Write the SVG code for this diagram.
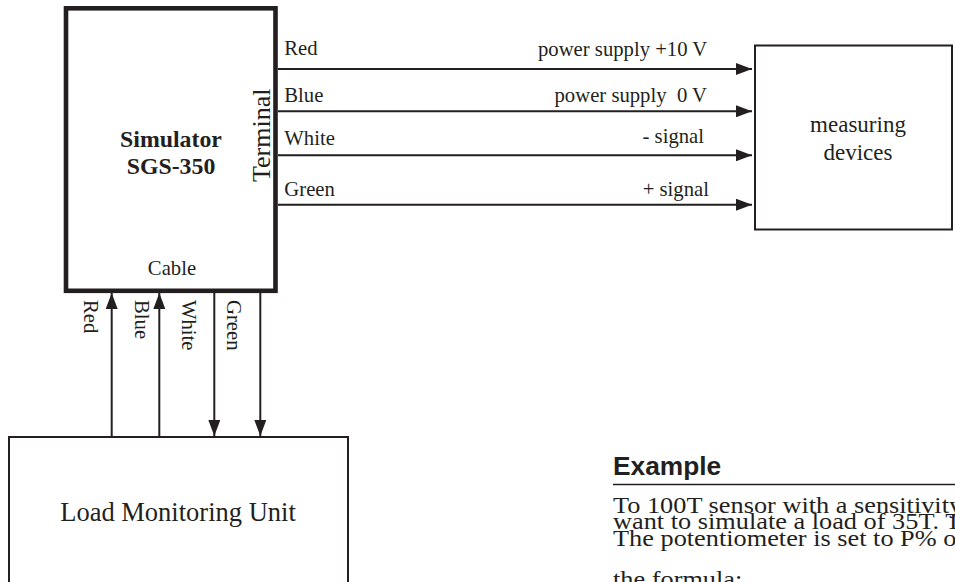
<svg xmlns="http://www.w3.org/2000/svg" width="955" height="582" viewBox="0 0 955 582">
<style>
.t{font-family:"Liberation Serif","Times New Roman",serif;fill:#231f20}
.lab{font-size:20.7px}
.big{font-size:26.5px}
.bold{font-weight:bold;font-size:23.8px}
.body{font-size:23.5px}
.sans{font-family:"Liberation Sans",Arial,sans-serif;font-weight:bold;font-size:26.3px;fill:#231f20}
.box{fill:#fff;stroke:#231f20;stroke-width:2}
.wire{stroke:#231f20;stroke-width:2;fill:none}
</style>
<defs>
<marker id="ah" markerUnits="userSpaceOnUse" markerWidth="16" markerHeight="12" refX="16" refY="6" orient="auto">
<path d="M0,0 L16,6 L0,12 z" fill="#231f20"/>
</marker>
</defs>
<rect width="955" height="582" fill="#fff"/>

<g id="simulator">
<rect x="66" y="8.3" width="209.5" height="282.5" fill="#fff" stroke="#231f20" stroke-width="4.6"/>
<text class="t bold" x="171" y="146.7" text-anchor="middle">Simulator</text>
<text class="t bold" x="171" y="174" text-anchor="middle">SGS-350</text>
<text class="t lab" x="172" y="275" text-anchor="middle">Cable</text>
<text class="t" font-size="26" transform="translate(269.5,182) rotate(-90)">Terminal</text>
</g>

<g id="measuring-devices">
<rect class="box" x="755" y="45.5" width="197" height="184"/>
<text class="t" font-size="23" x="858" y="132.3" text-anchor="middle">measuring</text>
<text class="t" font-size="23" x="858" y="160" text-anchor="middle">devices</text>
</g>

<g id="load-monitoring-unit">
<rect class="box" x="9" y="437" width="339" height="200"/>
<text class="t big" x="178" y="520.7" text-anchor="middle">Load Monitoring Unit</text>
</g>

<g id="connectors">
<line class="wire" x1="278" y1="69" x2="752" y2="69" marker-end="url(#ah)"/>
<line class="wire" x1="278" y1="111.3" x2="752" y2="111.3" marker-end="url(#ah)"/>
<line class="wire" x1="278" y1="155.3" x2="752" y2="155.3" marker-end="url(#ah)"/>
<line class="wire" x1="278" y1="204.7" x2="752" y2="204.7" marker-end="url(#ah)"/>
<line class="wire" x1="111.7" y1="436" x2="111.7" y2="293" marker-end="url(#ah)"/>
<line class="wire" x1="159.3" y1="436" x2="159.3" y2="293" marker-end="url(#ah)"/>
<line class="wire" x1="214.3" y1="293" x2="214.3" y2="436" marker-end="url(#ah)"/>
<line class="wire" x1="260.3" y1="293" x2="260.3" y2="436" marker-end="url(#ah)"/>
</g>

<g id="wire-labels">
<text class="t lab" x="284.3" y="55">Red</text>
<text class="t lab" x="284.3" y="102.3">Blue</text>
<text class="t lab" x="284.3" y="145">White</text>
<text class="t lab" x="284.3" y="196">Green</text>
<text class="t lab" x="707.3" y="56" text-anchor="end">power supply +10 V</text>
<text class="t lab" x="707" y="101.7" text-anchor="end">power supply&#160; 0 V</text>
<text class="t lab" x="704" y="143" text-anchor="end">- signal</text>
<text class="t lab" x="709" y="195.7" text-anchor="end">+ signal</text>
<text class="t lab" transform="translate(83.5,300) rotate(90)">Red</text>
<text class="t lab" transform="translate(134.5,300) rotate(90)">Blue</text>
<text class="t lab" transform="translate(181.5,300) rotate(90)">White</text>
<text class="t lab" transform="translate(226.5,300) rotate(90)">Green</text>
</g>

<g id="example">
<text class="sans" x="613" y="475">Example</text>
<line x1="613" y1="484.5" x2="955" y2="484.5" stroke="#231f20" stroke-width="1.5"/>
<g transform="translate(613,0) scale(1.12,1)">
<text class="t body" x="0" y="513.5">To 100T sensor with a sensitivity</text>
<text class="t body" x="0" y="529.5">want to simulate a load of 35T. T</text>
<text class="t body" x="0" y="546">The potentiometer is set to P% of</text>
<text class="t body" x="0" y="587">the formula:</text>
</g>
</g>
</svg>
